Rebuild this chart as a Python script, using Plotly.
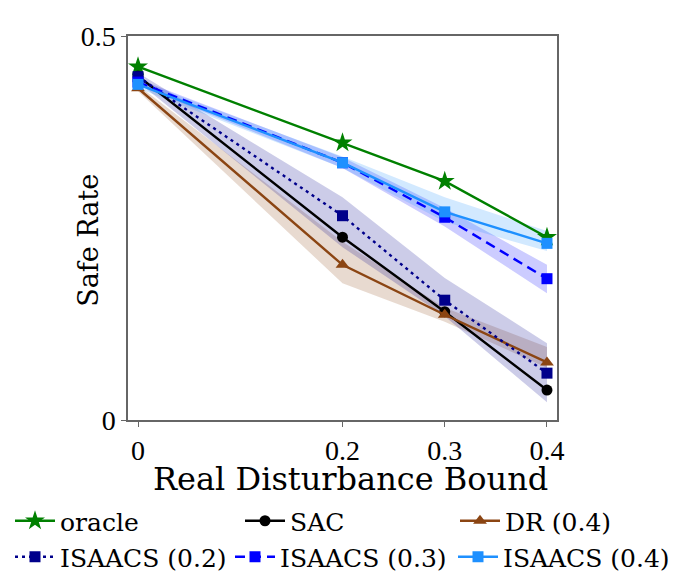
import plotly.graph_objects as go

x = [0, 0.2, 0.3, 0.4]
x_ticktext = ["0", "0.2", "0.3", "0.4"]
y_tickvals = [0, 0.5]
y_ticktext = ["0", "0.5"]

oracle = [0.460, 0.361, 0.311, 0.238]
sac = [0.448, 0.238, 0.141, 0.039]
dr = [0.432, 0.202, 0.137, 0.075]
dr_lo = [0.428, 0.178, 0.128, 0.068]
dr_hi = [0.436, 0.232, 0.146, 0.095]
isaacs02 = [0.447, 0.266, 0.156, 0.061]
isaacs02_lo = [0.440, 0.225, 0.135, 0.023]
isaacs02_hi = [0.452, 0.290, 0.185, 0.100]
isaacs03 = [0.440, 0.335, 0.264, 0.184]
isaacs03_lo = [0.436, 0.328, 0.252, 0.165]
isaacs03_hi = [0.444, 0.342, 0.276, 0.202]
isaacs04 = [0.437, 0.335, 0.271, 0.230]
isaacs04_lo = [0.432, 0.328, 0.258, 0.220]
isaacs04_hi = [0.442, 0.343, 0.290, 0.246]

FONT = "DejaVu Serif"
TICKFONT = "Liberation Serif"
W, H = 670, 568  # page body has an 8px margin
fig = go.Figure()

def band(lo, hi, color):
    fig.add_trace(go.Scatter(x=x + x[::-1], y=hi + lo[::-1], fill="toself",
                             fillcolor=color, line=dict(width=0), mode="lines",
                             showlegend=False, hoverinfo="skip"))

band(dr_lo, dr_hi, "rgba(139,69,19,0.2)")
band(isaacs02_lo, isaacs02_hi, "rgba(0,0,139,0.2)")
band(isaacs03_lo, isaacs03_hi, "rgba(0,0,255,0.2)")
band(isaacs04_lo, isaacs04_hi, "rgba(30,144,255,0.2)")

def line(y, name, color, symbol, legend, dash="solid", size=11):
    fig.add_trace(go.Scatter(x=x, y=y, name=name, mode="lines+markers", legend=legend,
                             line=dict(color=color, width=2.4, dash=dash),
                             marker=dict(color=color, symbol=symbol, size=size)))

line(oracle, "oracle", "#008000", "star", "legend", size=15)
line(sac, "SAC", "black", "circle", "legend2", size=11)
line(dr, "DR (0.4)", "#8B4513", "triangle-up", "legend3", size=12)
line(isaacs02, "ISAACS (0.2)", "#00008B", "square", "legend4", dash="3px,4px", size=11)
line(isaacs03, "ISAACS (0.3)", "#0000FF", "square", "legend5", dash="10px,6px", size=11)
line(isaacs04, "ISAACS (0.4)", "#1E90FF", "square", "legend6", size=11)

def leg(px, py):
    return dict(xref="container", yref="container", x=px / W, y=1 - py / H,
                xanchor="left", yanchor="middle", orientation="h",
                font=dict(size=25, family=FONT), bgcolor="rgba(0,0,0,0)",
                itemwidth=40)

fig.update_layout(
    width=W, height=H, autosize=False,
    margin=dict(l=120, r=121, t=28, b=156, autoexpand=False),
    plot_bgcolor="white", paper_bgcolor="white",
    font=dict(family=FONT, color="black", size=26),
    xaxis=dict(range=[-0.0098, 0.4098], tickvals=x, ticktext=x_ticktext,
               showgrid=False, zeroline=False, showline=True, linecolor="#666666",
               linewidth=1.5, mirror=True, ticks="outside", ticklen=5, tickcolor="#666666",
               tickfont=dict(size=28, family=TICKFONT)),
    yaxis=dict(range=[0, 0.5], tickvals=y_tickvals, ticktext=y_ticktext,
               showgrid=False, zeroline=False, showline=True, linecolor="#666666",
               linewidth=1.5, mirror=True, ticks="outside", ticklen=5, tickcolor="#666666",
               tickfont=dict(size=28, family=TICKFONT)),
    annotations=[
        dict(text="Safe Rate", xref="paper", yref="paper", x=-0.091, y=0.469,
             xanchor="center", yanchor="middle", textangle=-90, showarrow=False,
             font=dict(size=27, family=FONT)),
        dict(text="Real Disturbance Bound", xref="paper", yref="paper", x=0.5175, y=-0.154,
             xanchor="center", yanchor="middle", showarrow=False,
             font=dict(size=32, family=FONT)),
    ],
    legend=leg(2, 513),
    legend2=leg(232, 513),
    legend3=leg(447, 513),
    legend4=leg(2, 549),
    legend5=leg(222, 549),
    legend6=leg(445, 549),
)

fig.write_html("out.html")
